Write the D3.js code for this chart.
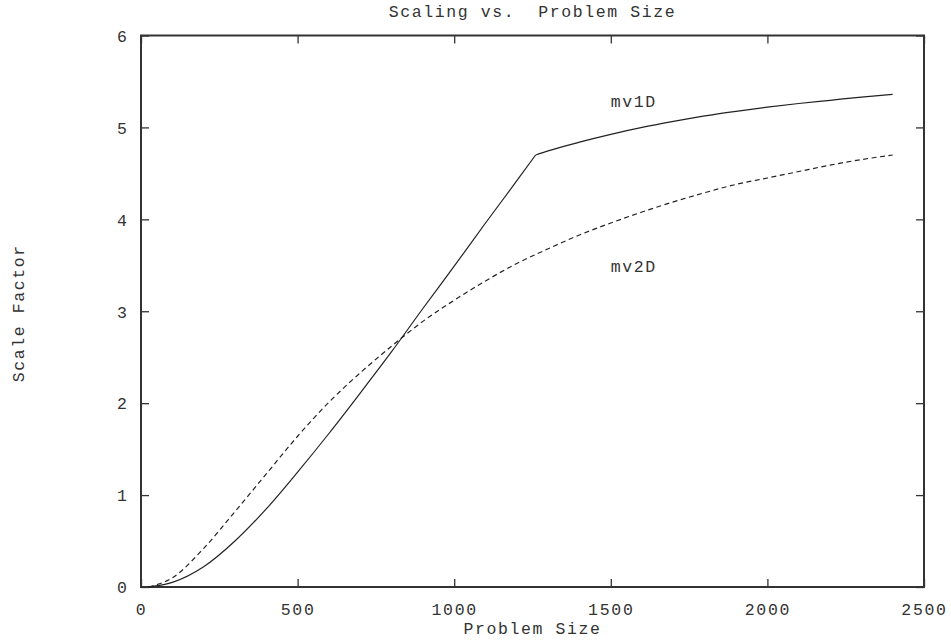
<!DOCTYPE html>
<html>
<head>
<meta charset="utf-8">
<script src="https://cdn.jsdelivr.net/npm/d3@7"></script>
<style>
  body { margin: 0; background: #fff; }
  text { font-family: "Liberation Mono", "DejaVu Sans Mono", monospace; fill: #333; }
</style>
</head>
<body>
<script>
// problem sizes and scale factors
var sizes1D = [25, 100, 200, 300, 400, 500, 600, 700, 800, 900, 1000, 1100, 1200, 1260,
               1300, 1400, 1500, 1600, 1700, 1800, 1900, 2000, 2100, 2200, 2300, 2400];
var mv1D    = [0, 0.05, 0.22, 0.50, 0.85, 1.25, 1.67, 2.11, 2.56, 3.03, 3.49, 3.96, 4.42, 4.70,
               4.745, 4.84, 4.925, 5.00, 5.065, 5.125, 5.175, 5.22, 5.26, 5.295, 5.33, 5.36];
var kink1D  = 1260;

var sizes2D = [25, 100, 200, 300, 400, 500, 600, 700, 800, 900, 1000, 1100, 1200,
               1300, 1400, 1500, 1600, 1700, 1800, 1900, 2000, 2100, 2200, 2300, 2400];
var mv2D    = [0, 0.10, 0.42, 0.82, 1.23, 1.64, 2.01, 2.33, 2.62, 2.89, 3.12, 3.33, 3.52,
               3.68, 3.83, 3.96, 4.08, 4.19, 4.29, 4.38, 4.45, 4.52, 4.59, 4.65, 4.70];

var xTicks = [0, 500, 1000, 1500, 2000, 2500];
var yTicks = [0, 1, 2, 3, 4, 5, 6];

var width = 951, height = 643;
var plotL = 141, plotR = 924, plotT = 35.5, plotB = 587;

var svg = d3.select("body").append("svg")
    .attr("width", width)
    .attr("height", height);

var x = d3.scaleLinear().domain([0, 2500]).range([plotL, plotR]);
var y = d3.scaleLinear().domain([0, 6]).range([plotB, plotT]);

// ticks point inward, mirrored on all sides
var tickLen = 8;
function addAxis(axis, tx, ty) {
    var g = svg.append("g")
        .attr("transform", "translate(" + tx + "," + ty + ")")
        .call(axis);
    g.select(".domain").remove();
    g.selectAll("line").attr("stroke", "#333").attr("stroke-width", 1.3);
    g.selectAll("text").attr("fill", "#333")
        .style("font-family", "Liberation Mono, monospace");
    return g;
}

var gx = addAxis(d3.axisBottom(x).tickValues(xTicks).tickSize(-tickLen).tickFormat(d3.format("d")), 0, plotB);
gx.selectAll("text").attr("font-size", 16.5).attr("letter-spacing", 1.7).attr("dy", null).attr("y", 28);
addAxis(d3.axisTop(x).tickValues(xTicks).tickSize(-tickLen).tickFormat(""), 0, plotT);

var gy = addAxis(d3.axisLeft(y).tickValues(yTicks).tickSize(-tickLen).tickFormat(d3.format("d")), plotL, 0);
gy.selectAll("text").attr("font-size", 16.5).attr("x", -14).attr("dy", "0.35em");
addAxis(d3.axisRight(y).tickValues(yTicks).tickSize(-tickLen).tickFormat(""), plotR, 0);

// frame
svg.append("rect")
    .attr("x", plotL).attr("y", plotT)
    .attr("width", plotR - plotL).attr("height", plotB - plotT)
    .attr("fill", "none").attr("stroke", "#333").attr("stroke-width", 2);

var line = d3.line()
    .x(function(d) { return x(d[0]); })
    .y(function(d) { return y(d[1]); })
    .curve(d3.curveMonotoneX);

var pts1D = sizes1D.map(function(s, i) { return [s, mv1D[i]]; });
var pts2D = sizes2D.map(function(s, i) { return [s, mv2D[i]]; });

// mv1D has a sharp corner, draw both sides separately
[pts1D.filter(function(d) { return d[0] <= kink1D; }),
 pts1D.filter(function(d) { return d[0] >= kink1D; })].forEach(function(seg) {
    svg.append("path")
        .datum(seg)
        .attr("fill", "none")
        .attr("stroke", "#222")
        .attr("stroke-width", 1.2)
        .attr("stroke-linejoin", "round")
        .attr("d", line);
});

svg.append("path")
    .datum(pts2D)
    .attr("fill", "none")
    .attr("stroke", "#222")
    .attr("stroke-width", 1.2)
    .attr("stroke-dasharray", "5,3.5")
    .attr("d", line);

// labels
function label(txt, px, py, size, anchor) {
    return svg.append("text")
        .attr("x", px).attr("y", py)
        .attr("font-size", size)
        .attr("letter-spacing", 1.6)
        .attr("text-anchor", anchor || "start")
        .attr("xml:space", "preserve")
        .style("white-space", "pre")
        .text(txt);
}

label("mv1D", x(1500), 107, 16.5);
label("mv2D", x(1500), 272, 16.5);
label("Scaling vs.  Problem Size", (plotL + plotR) / 2, 17, 16.5, "middle");
label("Problem Size", (plotL + plotR) / 2, 634, 16.5, "middle");
label("Scale Factor", 0, 0, 16.5, "middle")
    .attr("transform", "translate(24," + ((plotT + plotB) / 2 + 2) + ") rotate(-90)");
</script>
</body>
</html>
